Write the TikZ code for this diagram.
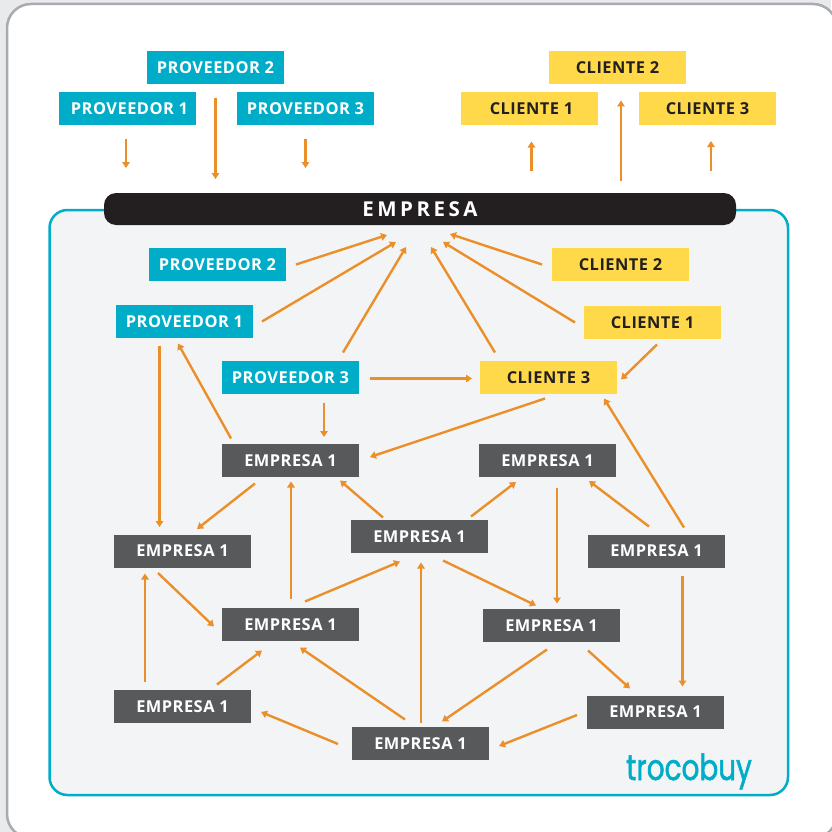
\documentclass[tikz,border=0pt]{standalone}
\usepackage{fontspec}
\setmainfont{Open Sans}
\newfontfamily\logofont[FakeBold=1.6]{Poppins}
\usetikzlibrary{arrows.meta,calc}
\definecolor{teal}{HTML}{00ADC8}
\definecolor{gold}{HTML}{FFD94A}
\definecolor{slate}{HTML}{58595B}
\definecolor{ink}{HTML}{231F20}
\definecolor{arrowc}{HTML}{EB8F2A}
\definecolor{panel}{HTML}{F3F4F6}
\definecolor{paper}{HTML}{E9EAEC}
\definecolor{rim}{HTML}{A9ABAE}
\tikzset{
  box/.style={minimum width=137pt,minimum height=33pt,inner sep=0pt,outer sep=0pt,font=\fontsize{16.4}{16.4}\selectfont\bfseries\addfontfeature{LetterSpace=3}},
  prov/.style={box,fill=teal,text=white},
  cli/.style={box,fill=gold,text=ink},
  emp/.style={box,fill=slate,text=white},
  arr/.style={draw=arrowc,line width=2.4pt,-{Triangle[length=6pt,width=7.5pt]}}
}
% connector: from node #1 offset #2 to node #3 offset #4
\newcommand{\lnk}[4]{\draw[arr] ($(#1)+(#2)$) -- ($(#3)+(#4)$);}
\begin{document}
\begin{tikzpicture}[x=1pt,y=-1pt]
\useasboundingbox (0,0) rectangle (831,832);
\fill[paper] (0,0) rectangle (831,832);
\draw[draw=rim,fill=white,line width=2.5pt,rounded corners=24pt] (7,4) rectangle (837,838);
\draw[draw=teal,fill=panel,line width=2.5pt,rounded corners=18pt] (49.5,210) rectangle (788,795);
\node[fill=ink,text=white,rounded corners=12pt,minimum width=632pt,minimum height=32pt,inner sep=0pt,font=\fontsize{20.5}{20.5}\selectfont\bfseries] (bar) at (420,209) {\addfontfeature{LetterSpace=17}EMPRESA};
% outside
\node[prov] (P2) at (215.5,67.5) {PROVEEDOR 2};
\node[prov] (P1) at (127.5,108.5) {\hspace{4pt}PROVEEDOR 1};
\node[prov] (P3) at (305.5,108.5) {PROVEEDOR 3};
\node[cli] (C2) at (617.5,67.5) {CLIENTE 2};
\node[cli] (C1) at (529.5,108.5) {\hspace{4pt}CLIENTE 1};
\node[cli] (C3) at (707.5,109) {CLIENTE 3};
% inside
\node[prov] (iP2) at (217.5,264.5) {PROVEEDOR 2};
\node[prov] (iP1) at (184.5,321.5) {PROVEEDOR 1};
\node[prov] (iP3) at (290.5,377.5) {PROVEEDOR 3};
\node[cli] (iC2) at (620.5,264.5) {CLIENTE 2};
\node[cli] (iC1) at (652.5,322.5) {CLIENTE 1};
\node[cli] (iC3) at (548.5,377.5) {CLIENTE 3};
\node[emp] (e1) at (290.5,460.5) {EMPRESA 1};
\node[emp] (e2) at (547.5,460.5) {EMPRESA 1};
\node[emp] (e3) at (419.5,536.5) {EMPRESA 1};
\node[emp] (e4) at (182.5,551) {EMPRESA 1};
\node[emp] (e5) at (656.5,551) {EMPRESA 1};
\node[emp] (e6) at (290.5,624.5) {EMPRESA 1};
\node[emp] (e7) at (551.5,625.5) {EMPRESA 1};
\node[emp] (e8) at (182.5,706.5) {EMPRESA 1};
\node[emp] (e9) at (655.5,712) {EMPRESA 1};
\node[emp] (e10) at (420.5,743.5) {EMPRESA 1};
\coordinate (hub) at (420,240);
% outer arrows
\lnk{P1}{-1.5,30}{bar}{-294,-41}
\lnk{P2}{0,31}{bar}{-204.5,-30}
\lnk{P3}{0,30}{bar}{-114.5,-41}
\lnk{bar}{111.5,-38}{C1}{2,33}
\lnk{bar}{201,-28}{C2}{3.5,33}
\lnk{bar}{291,-38}{C3}{3.5,32}
% into hub
\lnk{iP2}{78.5,0}{hub}{-33,-5}
\lnk{iP1}{77.5,0}{hub}{-24,2}
\lnk{iP3}{52.5,-25}{hub}{-14,7}
\lnk{iC3}{-53.5,-25}{hub}{11,7}
\lnk{iC1}{-77.5,0}{hub}{23,2}
\lnk{iC2}{-78.5,0}{hub}{30,-6}
% inner network
\lnk{iP3}{79.5,1}{iC3}{-76.5,1}
\lnk{iC1}{4.5,22}{iC3}{72.5,2}
\lnk{iP1}{-25,24}{e4}{-23,-24}
\lnk{e1}{-59.5,-22}{iP1}{-6.5,22}
\lnk{iP3}{33.5,25}{e1}{33.5,-23.5}
\lnk{iC3}{-3.5,21}{e1}{79.5,-3.5}
\lnk{e1}{-35.5,23}{e4}{14.5,-22}
\lnk{e3}{-36.5,-19}{e1}{49.5,20}
\lnk{e3}{51.5,-20}{e2}{-31.5,21.5}
\lnk{e5}{-7.5,-24.5}{e2}{41.5,20.5}
\lnk{e5}{27.5,-23.5}{iC3}{55.5,21}
\lnk{e2}{9.5,27}{e7}{5.5,-22}
\lnk{e3}{23.5,24}{e7}{-15.5,-20}
\lnk{e5}{26,25}{e9}{27,-25.5}
\lnk{e7}{36.5,25}{e9}{-25.5,-23.5}
\lnk{e7}{-4.5,24}{e10}{21.5,-22}
\lnk{e9}{-78.5,3}{e10}{78.5,2.5}
\lnk{e10}{.5,-21}{e3}{1.5,26}
\lnk{e10}{-15.5,-24}{e6}{9.5,23}
\lnk{e10}{-82.5,.5}{e8}{78.5,5.5}
\lnk{e8}{34.5,-22}{e6}{-28.5,26}
\lnk{e8}{-37.5,-25}{e4}{-37.5,22.5}
\lnk{e4}{-24.5,22}{e6}{-76.5,2}
\lnk{e6}{.5,-26}{e1}{.5,21}
\lnk{e6}{14.5,-23}{e3}{-19.5,25}
\node[text=teal,inner sep=0pt,anchor=base west,font=\logofont\fontsize{36}{36}\selectfont] (logo) at (626,780) {\scalebox{0.775}[1]{trocobuy}};
\end{tikzpicture}
\end{document}
